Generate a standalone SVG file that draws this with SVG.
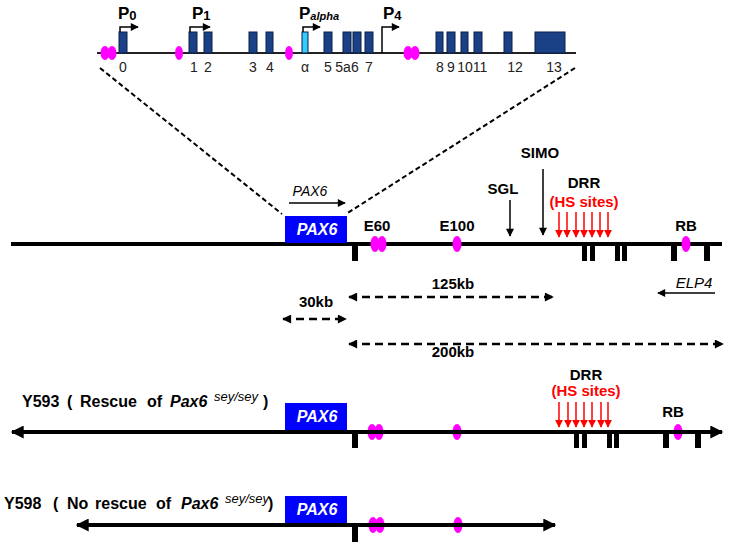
<svg xmlns="http://www.w3.org/2000/svg" width="729" height="547" viewBox="0 0 729 547">
<style>
text{font-family:"Liberation Sans",Arial,sans-serif;fill:#000}
.b{font-weight:bold}
.lbl{font-weight:bold;font-size:15px;text-anchor:middle}
.num{font-size:14px;text-anchor:middle;fill:#222}
.exon{fill:#1a4186;stroke:#0b1f48;stroke-width:1}
.mag{fill:#ff00ff}
.tick{fill:#000}
.chr{stroke:#000;stroke-width:4;fill:none}
.dash{stroke:#000;stroke-width:2.5;stroke-dasharray:8 5;fill:none}
.thin{stroke:#000;stroke-width:1.5;fill:none}
.red{stroke:#ff0000;stroke-width:1.5;fill:none}
.box{fill:#0000ff}
.boxt{font-weight:bold;font-style:italic;font-size:16px;fill:#fff;text-anchor:middle}
</style>
<defs>
<marker id="ah" viewBox="0 0 10 10" refX="9" refY="5" markerWidth="9" markerHeight="8" markerUnits="userSpaceOnUse" orient="auto-start-reverse"><path d="M0,0 L10,5 L0,10 z" fill="#000"/></marker>
<marker id="ahd" viewBox="0 0 10 10" refX="9" refY="5" markerWidth="10" markerHeight="9" markerUnits="userSpaceOnUse" orient="auto-start-reverse"><path d="M0,0 L10,5 L0,10 z" fill="#000"/></marker>
<marker id="ahb" viewBox="0 0 10 10" refX="9" refY="5" markerWidth="14" markerHeight="13" markerUnits="userSpaceOnUse" orient="auto-start-reverse"><path d="M0,0 L10,5 L0,10 z" fill="#000"/></marker>
<marker id="ahr" viewBox="0 0 10 10" refX="9" refY="5" markerWidth="8" markerHeight="8" markerUnits="userSpaceOnUse" orient="auto"><path d="M0,0 L10,5 L0,10 z" fill="#ff0000"/></marker>
</defs>

<!-- Top gene structure -->
<g id="gene-structure">
  <line x1="97" y1="53" x2="576" y2="53" stroke="#222" stroke-width="2"/>
  <rect class="exon" x="119" y="32" width="8" height="21"/>
  <rect class="exon" x="189" y="32" width="8" height="21"/>
  <rect class="exon" x="204" y="32" width="8" height="21"/>
  <rect class="exon" x="249" y="32" width="8" height="21"/>
  <rect class="exon" x="266" y="32" width="7" height="21"/>
  <rect x="302" y="32" width="6" height="21" fill="#33ccff" stroke="#0b1f48" stroke-width="1"/>
  <rect class="exon" x="324" y="32" width="8" height="21"/>
  <rect class="exon" x="343" y="32" width="8" height="21"/>
  <rect class="exon" x="353" y="32" width="8" height="21"/>
  <rect class="exon" x="365" y="32" width="8" height="21"/>
  <rect class="exon" x="436" y="32" width="7" height="21"/>
  <rect class="exon" x="447" y="32" width="8" height="21"/>
  <rect class="exon" x="461" y="32" width="7" height="21"/>
  <rect class="exon" x="474" y="32" width="8" height="21"/>
  <rect class="exon" x="504" y="32" width="8" height="21"/>
  <rect class="exon" x="535" y="32" width="30" height="21"/>
  <ellipse class="mag" cx="105" cy="53" rx="4.5" ry="7"/>
  <ellipse class="mag" cx="112" cy="53" rx="4.5" ry="7"/>
  <ellipse class="mag" cx="179" cy="53" rx="4" ry="7"/>
  <ellipse class="mag" cx="289" cy="53" rx="4" ry="7"/>
  <ellipse class="mag" cx="408" cy="53" rx="4.5" ry="7"/>
  <ellipse class="mag" cx="415" cy="53" rx="4.5" ry="7"/>
  <path class="thin" d="M120,32 V27 H138" marker-end="url(#ah)"/>
  <path class="thin" d="M190,32 V27 H210" marker-end="url(#ah)"/>
  <path class="thin" d="M303,32 V27 H320" marker-end="url(#ah)"/>
  <path class="thin" d="M382,53 V27 H399" marker-end="url(#ah)"/>
  <text class="b" x="118" y="19" font-size="17">P<tspan font-size="13" dy="1">0</tspan></text>
  <text class="b" x="192" y="19" font-size="17">P<tspan font-size="13" dy="1">1</tspan></text>
  <text class="b" x="299" y="19" font-size="17">P<tspan font-size="11" font-style="italic" dy="1">alpha</tspan></text>
  <text class="b" x="383" y="19" font-size="17">P<tspan font-size="13" dy="1">4</tspan></text>
  <text class="num" x="123" y="72">0</text>
  <text class="num" x="194" y="72">1</text>
  <text class="num" x="208" y="72">2</text>
  <text class="num" x="253" y="72">3</text>
  <text class="num" x="270" y="72">4</text>
  <text class="num" x="305" y="72">α</text>
  <text class="num" x="328" y="72">5</text>
  <text class="num" x="347" y="72">5a6</text>
  <text class="num" x="369" y="72">7</text>
  <text class="num" x="440" y="72">8</text>
  <text class="num" x="451" y="72">9</text>
  <text class="num" x="465" y="72">10</text>
  <text class="num" x="480" y="72">11</text>
  <text class="num" x="515" y="72">12</text>
  <text class="num" x="554" y="72">13</text>
</g>

<!-- Zoom lines -->
<g id="zoom-lines">
  <line x1="100" y1="68" x2="282" y2="214" stroke="#000" stroke-width="2" stroke-dasharray="5 3"/>
  <line x1="575" y1="68" x2="346" y2="214" stroke="#000" stroke-width="2" stroke-dasharray="5 3"/>
</g>

<!-- Main locus -->
<g id="locus">
  <line class="chr" x1="11" y1="244" x2="722" y2="244"/>
  <rect class="tick" x="352" y="244" width="6" height="17"/>
  <rect class="tick" x="582" y="244" width="5" height="17"/>
  <rect class="tick" x="590" y="244" width="5" height="17"/>
  <rect class="tick" x="615" y="244" width="5" height="17"/>
  <rect class="tick" x="622" y="244" width="5" height="17"/>
  <rect class="tick" x="671" y="244" width="6" height="17"/>
  <rect class="tick" x="704" y="244" width="6" height="17"/>
  <ellipse class="mag" cx="375" cy="244" rx="4.5" ry="8"/>
  <ellipse class="mag" cx="382" cy="244" rx="4.5" ry="8"/>
  <ellipse class="mag" cx="457" cy="244" rx="4.5" ry="8"/>
  <ellipse class="mag" cx="686" cy="244" rx="4.5" ry="8"/>
</g>
<g id="pax6-main">
  <rect class="box" x="285" y="216" width="62" height="27"/>
  <text class="boxt" x="317" y="235">PAX6</text>
  <text x="310" y="196" font-size="14" font-style="italic" text-anchor="middle">PAX6</text>
</g>
<g id="labels-main">
  <text class="lbl" x="377" y="231">E60</text>
  <text class="lbl" x="457" y="231">E100</text>
  <text class="lbl" x="503" y="194">SGL</text>
  <text class="lbl" x="540" y="158">SIMO</text>
  <text class="lbl" x="584" y="188">DRR</text>
  <text class="lbl" x="584" y="207" font-size="13" style="fill:#ff0000">(HS sites)</text>
  <text class="lbl" x="686" y="231">RB</text>
</g>
<g id="distances">
  <text class="lbl" x="453" y="289">125kb</text>
  <text class="lbl" x="316" y="307">30kb</text>
  <text class="lbl" x="453" y="357">200kb</text>
  <text x="694" y="288" font-size="15" font-style="italic" text-anchor="middle">ELP4</text>
</g>

<!-- Y593 -->
<g id="y593">
  <text class="b" x="22" y="407" font-size="16">Y593<tspan x="67">(</tspan><tspan x="80">Rescue</tspan><tspan x="147">of</tspan><tspan x="170" font-style="italic">Pax6</tspan><tspan x="214" y="401" font-size="13" font-style="italic" font-weight="normal">sey/sey</tspan><tspan x="263" y="407">)</tspan></text>
  <rect class="box" x="285" y="403" width="62" height="27"/>
  <text class="boxt" x="317" y="422">PAX6</text>
  <rect class="tick" x="352" y="432" width="6" height="16"/>
  <rect class="tick" x="574" y="432" width="5" height="16"/>
  <rect class="tick" x="582" y="432" width="5" height="16"/>
  <rect class="tick" x="607" y="432" width="5" height="16"/>
  <rect class="tick" x="614" y="432" width="5" height="16"/>
  <rect class="tick" x="663" y="432" width="6" height="16"/>
  <rect class="tick" x="695" y="432" width="6" height="16"/>
  <ellipse class="mag" cx="372" cy="432" rx="4.5" ry="8"/>
  <ellipse class="mag" cx="379" cy="432" rx="4.5" ry="8"/>
  <ellipse class="mag" cx="457" cy="432" rx="4.5" ry="8"/>
  <ellipse class="mag" cx="678" cy="432" rx="4.5" ry="8"/>
  <text class="lbl" x="586" y="380">DRR</text>
  <text class="lbl" x="586" y="396" font-size="13" style="fill:#ff0000">(HS sites)</text>
  <text class="lbl" x="673" y="417">RB</text>
</g>

<!-- Y598 -->
<g id="y598">
  <text class="b" x="4" y="509" font-size="16">Y598<tspan x="53">(</tspan><tspan x="67">No</tspan><tspan x="95">rescue</tspan><tspan x="156">of</tspan><tspan x="181" font-style="italic">Pax6</tspan><tspan x="225" y="503" font-size="13" font-style="italic" font-weight="normal">sey/sey</tspan><tspan x="268" y="509">)</tspan></text>
  <rect class="box" x="285" y="496" width="62" height="27"/>
  <text class="boxt" x="317" y="515">PAX6</text>
  <rect class="tick" x="352" y="525" width="6" height="17"/>
  <ellipse class="mag" cx="373" cy="525" rx="4.5" ry="8"/>
  <ellipse class="mag" cx="380" cy="525" rx="4.5" ry="8"/>
  <ellipse class="mag" cx="458" cy="525" rx="4.5" ry="8"/>
</g>

<!-- Connectors -->
<g id="connectors">
  <line class="thin" x1="289" y1="203" x2="345" y2="203" stroke-width="2" marker-end="url(#ah)"/>
  <line class="thin" x1="510" y1="200" x2="510" y2="236" marker-end="url(#ah)"/>
  <line class="thin" x1="543" y1="169" x2="543" y2="235" marker-end="url(#ah)"/>
  <line class="red" x1="559" y1="212" x2="559" y2="237" marker-end="url(#ahr)"/>
  <line class="red" x1="567" y1="212" x2="567" y2="237" marker-end="url(#ahr)"/>
  <line class="red" x1="576" y1="212" x2="576" y2="237" marker-end="url(#ahr)"/>
  <line class="red" x1="584" y1="212" x2="584" y2="237" marker-end="url(#ahr)"/>
  <line class="red" x1="592" y1="212" x2="592" y2="237" marker-end="url(#ahr)"/>
  <line class="red" x1="600" y1="212" x2="600" y2="237" marker-end="url(#ahr)"/>
  <line class="red" x1="608" y1="212" x2="608" y2="237" marker-end="url(#ahr)"/>
  <line class="dash" x1="349" y1="297" x2="553" y2="297" marker-start="url(#ahd)" marker-end="url(#ahd)"/>
  <line class="dash" x1="283" y1="319" x2="346" y2="319" marker-start="url(#ahd)" marker-end="url(#ahd)"/>
  <line class="dash" x1="349" y1="344" x2="723" y2="344" marker-start="url(#ahd)" marker-end="url(#ahd)"/>
  <line class="thin" x1="715" y1="293" x2="658" y2="293" marker-end="url(#ah)"/>
  <line class="red" x1="559" y1="402" x2="559" y2="427" marker-end="url(#ahr)"/>
  <line class="red" x1="568" y1="402" x2="568" y2="427" marker-end="url(#ahr)"/>
  <line class="red" x1="576" y1="402" x2="576" y2="427" marker-end="url(#ahr)"/>
  <line class="red" x1="584" y1="402" x2="584" y2="427" marker-end="url(#ahr)"/>
  <line class="red" x1="592" y1="402" x2="592" y2="427" marker-end="url(#ahr)"/>
  <line class="red" x1="601" y1="402" x2="601" y2="427" marker-end="url(#ahr)"/>
  <line class="red" x1="608" y1="402" x2="608" y2="427" marker-end="url(#ahr)"/>
  <line class="chr" x1="12" y1="432" x2="722" y2="432" marker-start="url(#ahb)" marker-end="url(#ahb)"/>
  <line class="chr" x1="77" y1="525" x2="555" y2="525" marker-start="url(#ahb)" marker-end="url(#ahb)"/>
</g>
</svg>
